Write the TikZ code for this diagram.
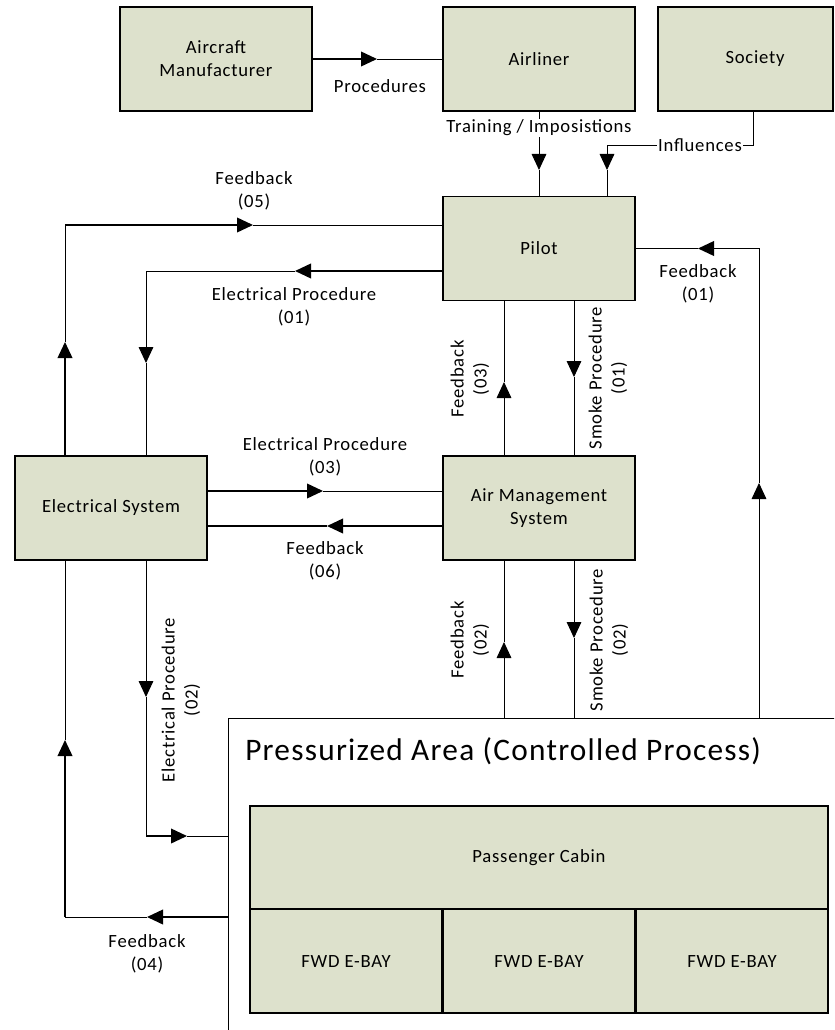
\documentclass[tikz,border=0pt]{standalone}
\usepackage{fontspec}
\setmainfont{Carlito}[LetterSpace=4]
\usetikzlibrary{arrows.meta}
\definecolor{boxfill}{RGB}{221,225,204}
\newcommand{\lblfont}{\fontsize{14}{17.3}\selectfont}
\begin{document}
\begin{tikzpicture}[x=0.75pt,y=-0.75pt,
  box/.style={draw=black,line width=1.1pt,fill=boxfill,minimum width=144pt,
    minimum height=78pt,inner sep=0pt,align=center,font=\lblfont},
  lbl/.style={align=center,fill=white,inner sep=1pt,font=\lblfont},
  heavy/.style={line width=1.25pt},
  light/.style={line width=0.7pt},
  tip/.style={-{Triangle[length=12pt,width=11pt]}},
]
\useasboundingbox (0,0) rectangle (834,1030);
\clip (0,0) rectangle (834,1030);

% controllers and context
\node[box] (am) at (216,59) {Aircraft\\Manufacturer};
\node[box] (airliner) at (539,59) {Airliner};
\node[box,minimum width=131.25pt] (society) at (745.5,59) {};
\node[font=\lblfont] at (755,59) {Society};
\node[box] (pilot) at (539,248.5) {Pilot};
\node[box] (es) at (111,508) {Electrical System};
\node[box] (ams) at (539,508) {Air Management\\System};

% controlled process
\node[draw=black,line width=1.1pt,minimum width=600pt,minimum height=300pt,
  anchor=north west,inner sep=0pt] (press) at (228,718) {};
\node[anchor=base west,inner sep=0pt,font=\fontsize{23.5}{28}\selectfont]
  (ptitle) at (245,760) {Pressurized Area (Controlled Process)};
\node[box,minimum width=433.5pt,minimum height=77.25pt] (cabin) at (539,857.5) {Passenger Cabin};
\node[box] (bay1) at (346,961) {FWD E-BAY};
\node[box] (bay2) at (539,961) {FWD E-BAY};
\node[box] (bay3) at (732,961) {FWD E-BAY};

% Procedures
\coordinate (tProc) at (377,59);
\draw[heavy,tip] (am.east) -- (tProc);
\draw[light] (tProc) -- (airliner.west);
\node[font=\lblfont] at (380,86) {Procedures};

% Training / Impositions
\coordinate (tTrain) at (539,170);
\draw[light,tip] (airliner.south) -- (tTrain);
\draw[light] (tTrain) -- (pilot.north);
\node[lbl] at (539,128) {Training / Imposistions};

% Influences
\coordinate (infA) at (753,145);
\coordinate (infB) at (607,145);
\coordinate (tInf) at (607,170);
\draw[light,tip] (society.south -| infA) -- (infA) -- (infB) -- (tInf);
\draw[light] (tInf) -- (pilot.north -| tInf);
\node[lbl] at (700,145) {Influences};

% Feedback (01)
\coordinate (fb1c) at (759,248.5);
\coordinate (fb1v) at (759,483);
\coordinate (fb1h) at (698,248.5);
\draw[light,tip] (press.north -| fb1c) -- (fb1v);
\draw[light] (fb1v) -- (fb1c);
\draw[heavy,tip] (fb1c) -- (fb1h);
\draw[light] (fb1h) -- (pilot.east);
\node[lbl] at (698,284) {Feedback\\(01)};

% Electrical Procedure (01)
\coordinate (ep1h) at (295,271);
\coordinate (ep1c) at (146,271);
\coordinate (ep1v) at (146,363);
\draw[heavy,tip] (pilot.west |- ep1h) -- (ep1h);
\draw[light,tip] (ep1h) -- (ep1c) -- (ep1v);
\draw[light] (ep1v) -- (es.north -| ep1v);
\node[lbl] at (294,307) {Electrical Procedure\\(01)};

% Feedback (05)
\coordinate (fb5v) at (65,342);
\coordinate (fb5c) at (65,225);
\coordinate (fb5h) at (253,225);
\draw[heavy,tip] (es.north -| fb5v) -- (fb5v);
\draw[light] (fb5v) -- (fb5c);
\draw[heavy,tip] (fb5c) -- (fb5h);
\draw[light] (fb5h) -- (pilot.west |- fb5h);
\node[lbl] at (254,191) {Feedback\\(05)};

% Electrical Procedure (03)
\coordinate (ep3) at (323,491);
\draw[heavy,tip] (es.east |- ep3) -- (ep3);
\draw[light] (ep3) -- (ams.west |- ep3);
\node[lbl] at (325,457) {Electrical Procedure\\(03)};

% Feedback (06)
\coordinate (fb6) at (327,526);
\draw[heavy,tip] (ams.west |- fb6) -- (fb6);
\draw[heavy] (fb6) -- (es.east |- fb6);
\node[lbl] at (325,561) {Feedback\\(06)};

% Feedback (03) and Smoke Procedure (01)
\coordinate (fb3) at (504,382);
\draw[light,tip] (ams.north -| fb3) -- (fb3);
\draw[light] (fb3) -- (pilot.south -| fb3);
\node[lbl,rotate=90] at (470,379) {Feedback\\(03)};
\coordinate (sm1) at (574,377);
\draw[light,tip] (pilot.south -| sm1) -- (sm1);
\draw[light] (sm1) -- (ams.north -| sm1);
\node[lbl,rotate=90] at (608,378) {Smoke Procedure\\(01)};

% Feedback (02) and Smoke Procedure (02)
\coordinate (fb2) at (504,642);
\draw[light,tip] (press.north -| fb2) -- (fb2);
\draw[light] (fb2) -- (ams.south -| fb2);
\node[lbl,rotate=90] at (470,640) {Feedback\\(02)};
\coordinate (sm2) at (574,638);
\draw[light,tip] (ams.south -| sm2) -- (sm2);
\draw[light] (sm2) -- (press.north -| sm2);
\node[lbl,rotate=90] at (609,640) {Smoke Procedure\\(02)};

% Electrical Procedure (02)
\coordinate (ep2v) at (146,697);
\coordinate (ep2c) at (146,836);
\coordinate (ep2h) at (187,836);
\draw[light,tip] (es.south -| ep2v) -- (ep2v);
\draw[light] (ep2v) -- (ep2c);
\draw[heavy,tip] (ep2c) -- (ep2h);
\draw[light] (ep2h) -- (press.west |- ep2h);
\node[lbl,rotate=90] at (181,700) {Electrical Procedure\\(02)};

% Feedback (04)
\coordinate (fb4h) at (147,917);
\coordinate (fb4c) at (65,917);
\coordinate (fb4v) at (65,740);
\draw[heavy,tip] (press.west |- fb4h) -- (fb4h);
\draw[light] (fb4h) -- (fb4c);
\draw[heavy,tip] (fb4c) -- (fb4v);
\draw[light] (fb4v) -- (es.south -| fb4v);
\node[lbl] at (147,954) {Feedback\\(04)};
\end{tikzpicture}
\end{document}
